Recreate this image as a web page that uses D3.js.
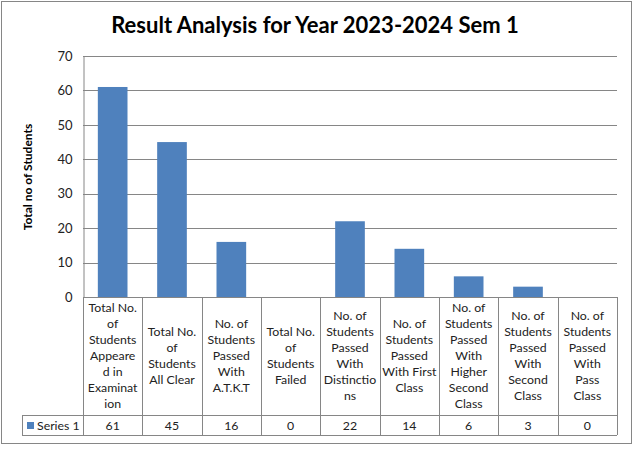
<!DOCTYPE html>
<html>
<head>
<meta charset="utf-8">
<script src="https://cdn.jsdelivr.net/npm/d3@7"></script>
<style>
  body { margin: 0; background: #fff; }
  svg { font-family: Lato, "Open Sans", sans-serif; }
</style>
</head>
<body>
<svg id="chart" width="644" height="454"></svg>
<script>
// chart data
var categoryLines = [
  ["Total No.", "of", "Students", "Appeare", "d in", "Examinat", "ion"],
  ["Total No.", "of", "Students", "All Clear"],
  ["No. of", "Students", "Passed", "With", "A.T.K.T"],
  ["Total No.", "of", "Students", "Failed"],
  ["No. of", "Students", "Passed", "With", "Distinctio", "ns"],
  ["No. of", "Students", "Passed", "With First", "Class"],
  ["No. of", "Students", "Passed", "With", "Higher", "Second", "Class"],
  ["No. of", "Students", "Passed", "With", "Second", "Class"],
  ["No. of", "Students", "Passed", "With", "Pass", "Class"]
];
var values = [61, 45, 16, 0, 22, 14, 6, 3, 0];
var seriesName = "Series 1";
var yTicks = [0, 10, 20, 30, 40, 50, 60, 70];
var title = "Result Analysis for Year 2023-2024 Sem 1";
var yTitle = "Total no of Students";

var barColor = "#4f81bd";
var lineColor = "#868686";

function draw_chart(){
  var svg = d3.select("#chart");
  var plotLeft = 83, plotRight = 617, plotTop = 56, plotBottom = 297;
  var tableBottom = 415, seriesBottom = 435, legendLeft = 22;

  var idx = d3.range(values.length);

  var x = d3.scaleBand()
    .domain(idx)
    .range([plotLeft, plotRight])
    .paddingInner(0.5)
    .paddingOuter(0.25);

  var col = d3.scaleBand()
    .domain(idx)
    .range([plotLeft, plotRight]);

  var y = d3.scaleLinear()
    .domain([0, 70])
    .range([plotBottom, plotTop]);

  // outer border
  svg.append("rect")
    .attr("x", 1.5).attr("y", 1.5)
    .attr("width", 630).attr("height", 442)
    .attr("fill", "#fff")
    .attr("stroke", lineColor);

  // title
  svg.append("text")
    .attr("x", 315).attr("y", 33)
    .attr("text-anchor", "middle")
    .style("font-size", "22px")
    .style("font-weight", "bold")
    .attr("fill", "#000")
    .text(title);

  // gridlines
  svg.append("g")
    .selectAll("line")
    .data(yTicks.filter(function(d){ return d > 0; }))
    .enter().append("line")
    .attr("x1", plotLeft).attr("x2", plotRight)
    .attr("y1", function(d){ return Math.round(y(d)) + 0.5; })
    .attr("y2", function(d){ return Math.round(y(d)) + 0.5; })
    .attr("stroke", lineColor);

  // y axis
  var yAxis = d3.axisLeft(y)
    .tickValues(yTicks)
    .tickSize(0)
    .tickPadding(11);

  var gy = svg.append("g")
    .attr("transform", "translate(" + (plotLeft + 0.5) + ",0)")
    .call(yAxis);
  gy.select(".domain").attr("stroke", lineColor);
  gy.selectAll("text")
    .style("font-size", "13px")
    .style("font-family", "Lato, sans-serif")
    .attr("fill", "#222");

  // y title
  svg.append("text")
    .attr("transform", "translate(32,177) rotate(-90)")
    .attr("text-anchor", "middle")
    .style("font-size", "12px")
    .style("font-weight", "bold")
    .text(yTitle);

  // bars
  svg.append("g")
    .selectAll("rect")
    .data(values)
    .enter().append("rect")
    .attr("x", function(d, i){ return x(i); })
    .attr("width", x.bandwidth())
    .attr("y", function(d){ return y(d); })
    .attr("height", function(d){ return y(0) - y(d); })
    .attr("fill", barColor);

  // data table
  var table = svg.append("g");

  table.append("line")
    .attr("x1", plotLeft).attr("x2", plotRight)
    .attr("y1", plotBottom + 0.5).attr("y2", plotBottom + 0.5)
    .attr("stroke", lineColor);
  table.append("line")
    .attr("x1", legendLeft).attr("x2", plotRight)
    .attr("y1", tableBottom + 0.5).attr("y2", tableBottom + 0.5)
    .attr("stroke", lineColor);
  table.append("line")
    .attr("x1", legendLeft).attr("x2", plotRight)
    .attr("y1", seriesBottom + 0.5).attr("y2", seriesBottom + 0.5)
    .attr("stroke", lineColor);

  var edges = idx.map(function(i){ return col(i); }).concat([plotRight]);
  table.selectAll(".vline")
    .data(edges)
    .enter().append("line")
    .attr("class", "vline")
    .attr("x1", function(d){ return Math.round(d) + 0.5; })
    .attr("x2", function(d){ return Math.round(d) + 0.5; })
    .attr("y1", plotBottom).attr("y2", seriesBottom)
    .attr("stroke", lineColor);
  table.append("line")
    .attr("x1", legendLeft + 0.5).attr("x2", legendLeft + 0.5)
    .attr("y1", tableBottom).attr("y2", seriesBottom)
    .attr("stroke", lineColor);

  // category labels
  var lineH = 16;
  var midY = (plotBottom + tableBottom) / 2;
  table.selectAll(".cat")
    .data(categoryLines)
    .enter().append("text")
    .attr("class", "cat")
    .attr("text-anchor", "middle")
    .style("font-size", "12.3px")
    .attr("fill", "#222")
    .each(function(lines, i){
      var t = d3.select(this);
      var cx = col(i) + col.bandwidth() / 2;
      var y0 = midY - (lines.length - 1) * lineH / 2 + 4;
      lines.forEach(function(s, k){
        t.append("tspan")
          .attr("x", cx)
          .attr("y", y0 + k * lineH)
          .text(s);
      });
    });

  // series row
  var rowMid = (tableBottom + seriesBottom) / 2 + 4.5;
  table.append("rect")
    .attr("x", 27).attr("y", 422)
    .attr("width", 7).attr("height", 7)
    .attr("fill", barColor);
  table.append("text")
    .attr("x", 37).attr("y", rowMid)
    .style("font-size", "12.3px")
    .attr("fill", "#222")
    .text(seriesName);
  table.selectAll(".val")
    .data(values)
    .enter().append("text")
    .attr("class", "val")
    .attr("x", function(d, i){ return col(i) + col.bandwidth() / 2; })
    .attr("y", rowMid)
    .attr("text-anchor", "middle")
    .style("font-size", "12.3px")
    .attr("fill", "#222")
    .text(function(d){ return d; });
}

draw_chart();
</script>
</body>
</html>
